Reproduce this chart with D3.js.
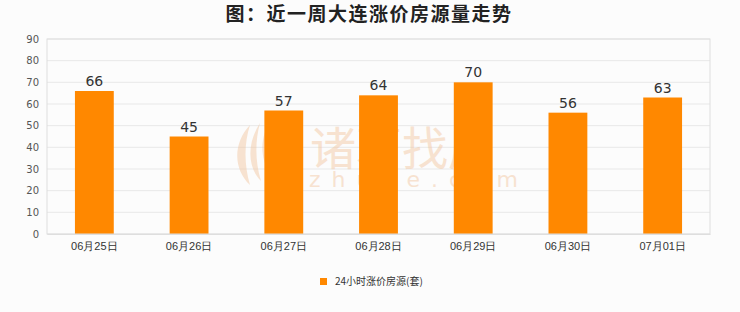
<!DOCTYPE html>
<html>
<head>
<meta charset="utf-8">
<script src="https://cdn.jsdelivr.net/npm/d3@7"></script>
<style>
  body { margin: 0; background: #fcfcfc; }
  svg { display: block; font-family: "Noto Sans CJK SC", "DejaVu Sans", sans-serif; }
</style>
</head>
<body>
<svg id="chart" width="740" height="312"></svg>
<script>
// chart data
var dates = ["06月25日", "06月26日", "06月27日", "06月28日", "06月29日", "06月30日", "07月01日"];
var counts = [66, 45, 57, 64, 70, 56, 63];
var yTicks = [0, 10, 20, 30, 40, 50, 60, 70, 80, 90];
var seriesName = "24小时涨价房源(套)";
var titleText = "图：近一周大连涨价房源量走势";

var svg = d3.select("#chart");
var margin = {top: 39, right: 30, bottom: 78, left: 47};
var width = 740 - margin.left - margin.right,
    height = 312 - margin.top - margin.bottom;

var x = d3.scaleBand().domain(dates).range([0, width]).paddingInner(0.59).paddingOuter(0.295);
var y = d3.scaleLinear().domain([0, 90]).range([height, 0]);

svg.append("text")
    .attr("x", 369).attr("y", 21)
    .attr("text-anchor", "middle")
    .attr("font-size", 19).attr("font-weight", "bold")
    .attr("letter-spacing", 1.5)
    .attr("fill", "#222")
    .text(titleText);

var g = svg.append("g").attr("transform", "translate(" + margin.left + "," + margin.top + ")");

g.append("rect").attr("width", width).attr("height", height).attr("fill", "#fcfcfc");

// gridlines
g.selectAll(".grid").data(yTicks).enter().append("line")
    .attr("x1", 0).attr("x2", width)
    .attr("y1", d => y(d)).attr("y2", d => y(d))
    .attr("stroke", "#e8e8e8");

// watermark (one text element, two lines)
var wm = g.append("g").attr("opacity", 0.45).attr("fill", "#f2c49c");
var wmText = wm.append("text");
wmText.append("tspan").attr("x", 263).attr("y", 126).attr("font-size", 46).text("诸葛找房");
wmText.append("tspan").attr("x", 262).attr("y", 148).attr("font-size", 22)
    .attr("letter-spacing", 11).attr("font-family", "DejaVu Sans").text("zhuge.com");
wm.append("path").attr("d", "M203,86 C186,104 186,130 203,146 C197,126 197,104 203,86 Z");
wm.append("path").attr("d", "M213,84 C200,104 200,128 214,142 C208,122 208,102 213,84 Z");
wm.append("path").attr("d", "M222,84 C212,102 214,122 224,136 C219,118 219,100 222,84 Z");

// bars
g.selectAll(".bar").data(counts).enter().append("rect")
    .attr("x", (d, i) => x(dates[i]))
    .attr("y", d => y(d))
    .attr("width", x.bandwidth())
    .attr("height", d => height - y(d))
    .attr("fill", "#ff8800");

g.selectAll(".val").data(counts).enter().append("text")
    .attr("x", (d, i) => x(dates[i]) + x.bandwidth() / 2)
    .attr("y", d => y(d) - 5)
    .attr("text-anchor", "middle")
    .attr("font-size", 14).attr("font-family", "DejaVu Sans")
    .attr("fill", "#333")
    .text(d => d);

// frame
g.append("rect").attr("width", width).attr("height", height)
    .attr("fill", "none").attr("stroke", "#dedede");

// axes
var yAxis = g.append("g").call(d3.axisLeft(y).tickValues(yTicks).tickSize(0).tickPadding(8));
yAxis.select(".domain").remove();
yAxis.selectAll("text").attr("font-size", 10).attr("font-family", "DejaVu Sans").attr("fill", "#555");

var xAxis = g.append("g").attr("transform", "translate(0," + height + ")")
    .call(d3.axisBottom(x).tickSize(0).tickPadding(8));
xAxis.select(".domain").attr("stroke", "#dedede");
xAxis.selectAll("text").attr("font-size", 11).attr("fill", "#333");

// legend
var lg = svg.append("g").attr("transform", "translate(320,278)");
lg.append("rect").attr("width", 7).attr("height", 7).attr("fill", "#ff8800");
lg.append("text").attr("x", 15).attr("y", 7).attr("font-size", 10).attr("fill", "#333").text(seriesName);
</script>
</body>
</html>
